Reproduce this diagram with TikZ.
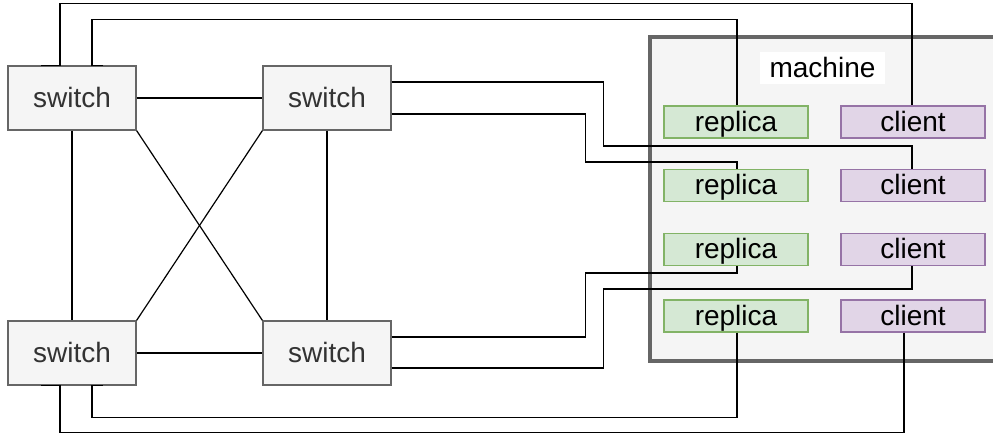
\documentclass[tikz,border=0pt]{standalone}
\usepackage{fontspec}
\setmainfont{Liberation Sans}
\definecolor{swfill}{HTML}{F5F5F5}
\definecolor{swdraw}{HTML}{666666}
\definecolor{swtext}{HTML}{333333}
\definecolor{repfill}{HTML}{D5E8D4}
\definecolor{repdraw}{HTML}{82B366}
\definecolor{clifill}{HTML}{E1D5E7}
\definecolor{clidraw}{HTML}{9673A6}
\begin{document}
\begin{tikzpicture}[x=1pt,y=-1pt,
  lbl/.style={inner sep=0pt, font=\fontsize{28}{33}\selectfont, text height=18pt, text depth=0pt},
  switchbox/.style={lbl, draw=swdraw, fill=swfill, text=swtext, line width=1.3pt, minimum width=128pt, minimum height=64pt},
  replicabox/.style={lbl, draw=repdraw, fill=repfill, line width=1.2pt, minimum width=144pt, minimum height=32pt},
  clientbox/.style={lbl, draw=clidraw, fill=clifill, line width=1.2pt, minimum width=144pt, minimum height=32pt},
  machinebox/.style={draw=swdraw, fill=swfill, line width=4pt, minimum width=347.5pt, minimum height=324.5pt, inner sep=0pt},
  machinelabel/.style={lbl, fill=white, minimum width=125pt, minimum height=32pt},
  wire/.style={draw=black, line width=1.3pt},
  link/.style={draw=black, line width=1.2pt}
]
\useasboundingbox (0,0) rectangle (993,434);

% machine container
\node[machinebox] (machine) at (823.25,198.75) {};
\node[machinelabel] (mlabel) at (822.5,68) {machine};

% switches
\node[switchbox] (swTL) at (72,98) {switch};
\node[switchbox] (swTR) at (327,98) {switch};
\node[switchbox] (swBL) at (72,353) {switch};
\node[switchbox] (swBR) at (327,353) {switch};

% replicas and clients
\node[replicabox] (r1) at (736,122) {replica};
\node[replicabox] (r2) at (736,185.5) {replica};
\node[replicabox] (r3) at (736,249.5) {replica};
\node[replicabox] (r4) at (736,316) {replica};
\node[clientbox] (c1) at (913,122) {client};
\node[clientbox] (c2) at (913,185.5) {client};
\node[clientbox] (c3) at (913,249.5) {client};
\node[clientbox] (c4) at (913,316) {client};

% switch mesh
\draw[link] (swTL) -- (swTR);
\draw[link] (swBL) -- (swBR);
\draw[link] (swTL) -- (swBL);
\draw[link] (swTR) -- (swBR);
\draw[link] (swTL.south east) -- (swBR.north west);
\draw[link] (swTR.south west) -- (swBL.north east);

% wires to the machine
\draw[wire] ([xshift=-31pt]swTL.north) -- ([xshift=-12pt]swTL.north) -- ++(0,-62) -| ([xshift=-1pt]c1.north);
\draw[wire] ([xshift=31pt]swTL.north) -- ([xshift=20pt]swTL.north) -- ++(0,-46) -| ([xshift=1pt]r1.north);
\draw[wire] ([yshift=16pt]swTR.east) -- ++(212,0) -- ++(0,64) -| ([xshift=-1pt]c2.north);
\draw[wire] ([yshift=-16pt]swTR.east) -- ++(194,0) -- ++(0,48) -| ([xshift=1pt]r2.north);
\draw[wire] ([yshift=16pt]swBR.east) -- ++(194,0) -- ++(0,-64) -| ([xshift=1pt]r3.south);
\draw[wire] ([yshift=-15pt]swBR.east) -- ++(212,0) -- ++(0,-79) -| ([xshift=-1pt]c3.south);
\draw[wire] ([xshift=1pt]r4.south) -- ++(0,85) -| ([xshift=20pt]swBL.south) -- ([xshift=31pt]swBL.south);
\draw[wire] ([xshift=-9pt]c4.south) -- ++(0,100) -| ([xshift=-12pt]swBL.south) -- ([xshift=-31pt]swBL.south);
\end{tikzpicture}
\end{document}
